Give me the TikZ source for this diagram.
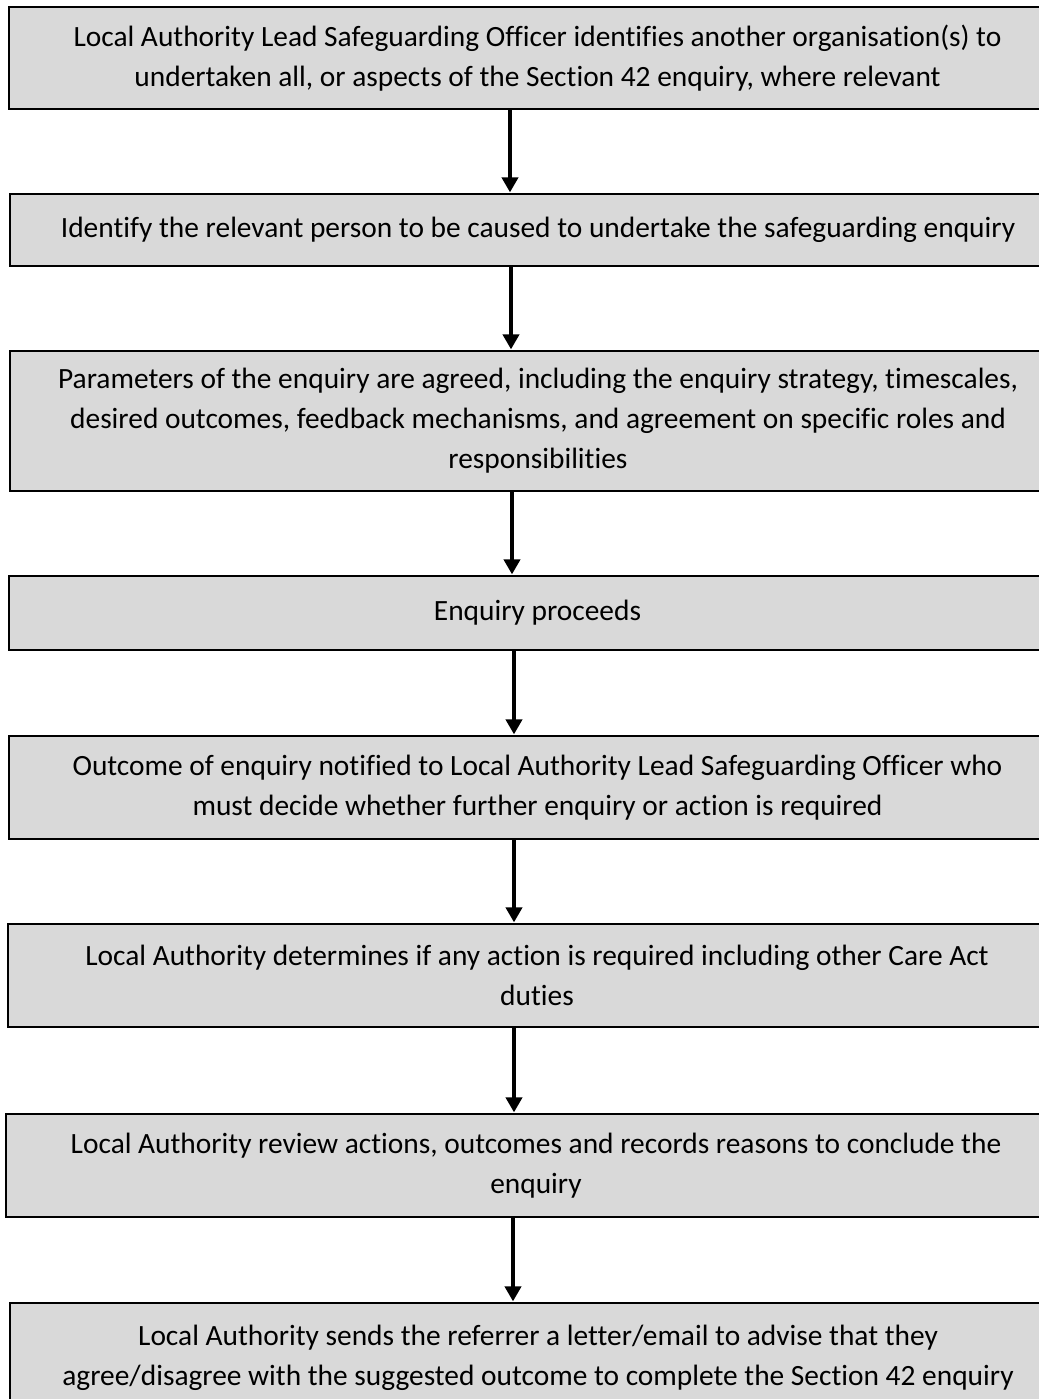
\documentclass[tikz,border=0pt]{standalone}
\usepackage{fontspec}
\setmainfont{Carlito}[Ligatures=NoCommon]
\usetikzlibrary{arrows.meta}
\definecolor{boxgray}{HTML}{D9D9D9}
\tikzset{
  flowbox/.style={draw=black, line width=1pt, fill=boxgray, rectangle, align=center,
    inner sep=0pt, font=\fontsize{14.7pt}{20pt}\selectfont},
  flowarrow/.style={line width=2pt, -{Triangle[width=8pt,length=7.5pt]}, shorten >=0.3pt}
}
\begin{document}
\begin{tikzpicture}[x=0.5pt,y=-0.5pt]
\path[use as bounding box, fill=white] (0,0) rectangle (1039,1399);
% boxes: right edge at 1066 (cropped by the page)
\node[flowbox, minimum width=528.5pt, minimum height=51pt] (b1) at (537.5,58)
  {Local Authority Lead Safeguarding Officer identifies another organisation(s) to\\undertaken all, or aspects of the Section 42 enquiry, where relevant};
\node[flowbox, minimum width=528pt, minimum height=36pt] (b2) at (538,230)
  {Identify the relevant person to be caused to undertake the safeguarding enquiry};
\node[flowbox, minimum width=528pt, minimum height=70pt] (b3) at (538,421)
  {Parameters of the enquiry are agreed, including the enquiry strategy, timescales,\\desired outcomes, feedback mechanisms, and agreement on specific roles and\\responsibilities};
\node[flowbox, minimum width=528.5pt, minimum height=37pt] (b4) at (537.5,613)
  {Enquiry proceeds};
\node[flowbox, minimum width=528.5pt, minimum height=51.5pt] (b5) at (537.5,787.5)
  {Outcome of enquiry notified to Local Authority Lead Safeguarding Officer who\\must decide whether further enquiry or action is required};
\node[flowbox, minimum width=529pt, minimum height=51.5pt] (b6) at (537,975.5)
  {Local Authority determines if any action is required including other Care Act\\duties};
\node[flowbox, minimum width=530pt, minimum height=51.5pt] (b7) at (536,1165.5)
  {Local Authority review actions, outcomes and records reasons to conclude the\\enquiry};
\node[flowbox, minimum width=528pt, minimum height=55pt] (b8) at (538,1358)
  {Local Authority sends the referrer a letter/email to advise that they\\agree/disagree with the suggested outcome to complete the Section 42 enquiry};
% arrows
\draw[flowarrow] ([xshift=-13.75pt]b1.south) -- ([xshift=-13.75pt]b2.north -| b1.south);
\draw[flowarrow] ([xshift=-13.5pt]b2.south) -- ([xshift=-13.5pt]b3.north);
\draw[flowarrow] ([xshift=-13pt]b3.south) -- ([xshift=-13pt]b4.north -| b3.south);
\draw[flowarrow] ([xshift=-11.75pt]b4.south) -- ([xshift=-11.75pt]b5.north);
\draw[flowarrow] ([xshift=-11.75pt]b5.south) -- ([xshift=-11.75pt]b6.north -| b5.south);
\draw[flowarrow] ([xshift=-11.5pt]b6.south) -- ([xshift=-11.5pt]b7.north -| b6.south);
\draw[flowarrow] ([xshift=-11.5pt]b7.south) -- ([xshift=-11.5pt]b8.north -| b7.south);
\end{tikzpicture}
\end{document}
